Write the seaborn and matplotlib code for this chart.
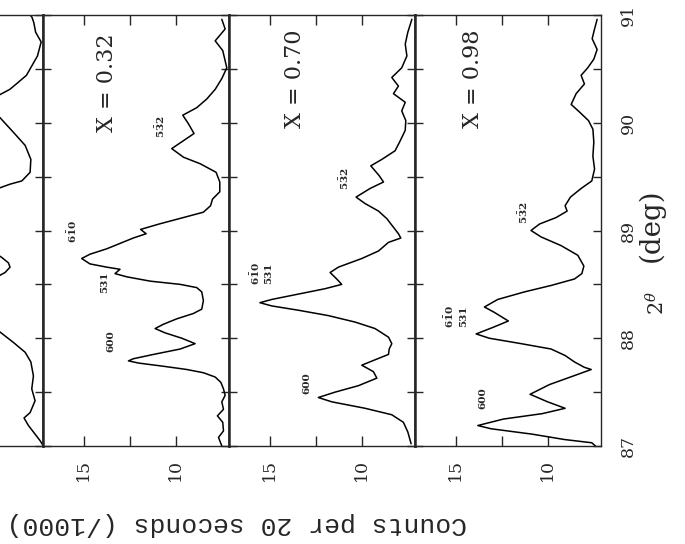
import matplotlib
matplotlib.use("Agg")
import matplotlib.pyplot as plt
from matplotlib.ticker import MultipleLocator, FixedLocator
import seaborn as sns

# 2-theta (deg) and counts per 20 s (/1000)
# top panel is cut off by the page edge; only its low-count side shows
theta_top = [91.0, 90.98, 90.93, 90.84, 90.75, 90.62, 90.53, 90.44, 90.36, 90.31,
             90.26, 90.15, 90.05, 89.91, 89.79, 89.66, 89.54, 89.46, 89.43, 89.38,
             89.0, 88.78, 88.75, 88.70, 88.66, 88.61, 88.56, 88.3, 88.08, 87.96,
             87.87, 87.78, 87.65, 87.53, 87.42, 87.31, 87.26, 87.19, 87.11, 87.05, 87.0]
counts_top = [7.8, 7.7, 7.6, 7.5, 7.2, 7.4, 7.7, 8.0, 8.55, 8.9,
              9.45, 11.0, 9.45, 8.7, 8.07, 7.76, 7.8, 8.25, 8.89, 9.7,
              12.0, 9.6, 9.34, 8.98, 8.89, 9.16, 9.7, 12.5, 9.6, 8.7,
              8.07, 7.76, 7.62, 7.71, 7.53, 7.8, 8.13, 7.89, 7.53, 7.26, 7.08]

theta_032 = [90.96, 90.87, 90.76, 90.67, 90.51, 90.41, 90.31, 90.22, 90.14, 90.07,
             89.99, 89.90, 89.76, 89.68, 89.62, 89.54, 89.45, 89.36, 89.29, 89.23,
             89.17, 89.11, 89.06, 89.01, 88.97, 88.93, 88.83, 88.78, 88.74, 88.69,
             88.66, 88.64, 88.60, 88.57, 88.53, 88.50, 88.47, 88.43, 88.35, 88.27,
             88.23, 88.18, 88.13, 88.09, 88.05, 88.00, 87.95, 87.90, 87.85, 87.81,
             87.79, 87.77, 87.74, 87.71, 87.68, 87.64, 87.59, 87.53, 87.47, 87.41,
             87.34, 87.28, 87.22, 87.14, 87.08, 87.00]
counts_032 = [7.49, 7.31, 7.85, 7.44, 7.22, 7.49, 7.85, 8.31, 8.85, 9.61,
              9.30, 9.00, 10.21, 9.57, 8.67, 7.80, 7.60, 7.60, 8.00, 8.10,
              8.49, 9.80, 10.90, 11.90, 11.60, 12.30, 13.74, 14.65, 15.10, 14.65,
              13.74, 13.02, 13.29, 12.65, 11.38, 9.75, 8.85, 8.58, 8.49, 8.58,
              9.03, 9.94, 10.66, 11.11, 10.57, 9.66, 8.94, 9.75, 11.20, 12.29,
              12.56, 12.02, 10.66, 9.39, 8.49, 7.85, 7.54, 7.40, 7.31, 7.49,
              7.40, 7.73, 7.44, 7.40, 7.67, 7.49]

theta_070 = [90.96, 90.84, 90.73, 90.62, 90.51, 90.42, 90.34, 90.27, 90.19, 90.11,
             90.02, 89.93, 89.83, 89.74, 89.66, 89.60, 89.51, 89.45, 89.39, 89.31,
             89.25, 89.18, 89.11, 89.03, 88.97, 88.93, 88.89, 88.81, 88.74, 88.66,
             88.61, 88.55, 88.50, 88.46, 88.41, 88.36, 88.33, 88.30, 88.26, 88.21,
             88.15, 88.09, 88.01, 87.95, 87.90, 87.85, 87.80, 87.75, 87.69, 87.63,
             87.56, 87.50, 87.45, 87.41, 87.35, 87.29, 87.22, 87.13, 87.02]
counts_070 = [7.27, 7.49, 7.63, 7.54, 7.82, 8.36, 8.00, 8.27, 7.63, 7.82,
              7.60, 7.63, 7.91, 8.18, 8.90, 9.50, 9.05, 8.81, 9.54, 10.30,
              9.81, 9.08, 8.63, 8.27, 8.00, 7.87, 8.54, 9.08, 9.99, 11.26,
              11.71, 11.35, 11.08, 11.98, 13.43, 14.88, 15.52, 14.88, 13.43, 11.80,
              10.35, 9.27, 8.54, 8.36, 8.50, 8.54, 9.27, 9.99, 9.36, 9.17,
              10.17, 11.44, 12.35, 11.62, 9.81, 8.36, 7.73, 7.49, 7.31]

theta_098 = [90.96, 90.87, 90.78, 90.68, 90.59, 90.51, 90.44, 90.36, 90.27, 90.17,
             90.10, 90.02, 89.94, 89.82, 89.69, 89.57, 89.46, 89.39, 89.31, 89.23,
             89.18, 89.12, 89.06, 89.00, 88.94, 88.86, 88.77, 88.67, 88.60, 88.55,
             88.49, 88.43, 88.36, 88.29, 88.24, 88.16, 88.10, 88.04, 88.00, 87.95,
             87.90, 87.84, 87.78, 87.73, 87.71, 87.65, 87.57, 87.48, 87.41, 87.35,
             87.30, 87.25, 87.19, 87.16, 87.11, 87.06, 87.03, 87.00]
counts_098 = [7.31, 7.45, 7.58, 7.31, 7.49, 7.82, 8.18, 8.00, 8.45, 8.72,
              8.27, 7.78, 7.54, 7.49, 7.54, 7.45, 7.60, 8.18, 8.76, 9.05,
              8.94, 9.54, 10.44, 10.90, 10.35, 9.27, 8.36, 8.03, 8.14, 8.54,
              9.81, 11.26, 12.71, 13.43, 12.89, 12.13, 12.98, 13.88, 13.16, 11.44,
              9.81, 9.05, 8.54, 8.00, 7.63, 8.60, 9.90, 10.95, 10.00, 9.05,
              10.30, 12.40, 13.79, 13.07, 10.84, 9.08, 7.60, 7.40]

panel_names = ["", "X = 0.32", "X = 0.70", "X = 0.98"]
name_pos = [None, (13.72, 90.37), (13.61, 90.41), (14.05, 90.41)]
# (label, counts, theta) of the reflection markers in each panel
peak_labels = [
    [],
    [("600", 13.5, 87.97), ("531", 13.83, 88.52), (r"$\mathbf{6\bar{1}0}$", 15.6, 88.99),
     (r"$\mathbf{5\bar{3}2}$", 10.84, 89.96)],
    [("600", 12.96, 87.58), ("531", 15.03, 88.6), (r"$\mathbf{6\bar{1}0}$", 15.79, 88.6),
     (r"$\mathbf{5\bar{3}2}$", 10.95, 89.48)],
    [("600", 13.5, 87.44), ("531", 14.54, 88.2), (r"$\mathbf{6\bar{1}0}$", 15.35, 88.2),
     (r"$\mathbf{5\bar{3}2}$", 11.33, 89.17)],
]
count_ticks = [10, 12.5, 15]
count_tick_labels = ["10", "", "15"]
theta_ticks = [87, 88, 89, 90, 91]

sns.set_style("ticks")
plt.rcParams["font.family"] = ["DejaVu Serif"]
plt.rcParams["mathtext.fontset"] = "dejavuserif"

fig = plt.figure(figsize=(6.85, 5.44), dpi=100)
W, H = 685.0, 544.0
lefts = [-143, 43, 229, 415]
pw = 186
bottom, top = 446, 15

series = [(theta_top, counts_top), (theta_032, counts_032),
          (theta_070, counts_070), (theta_098, counts_098)]

for i, (th, ct) in enumerate(series):
    ax = fig.add_axes([lefts[i] / W, (H - bottom) / H, pw / W, (bottom - top) / H])
    sns.lineplot(x=ct, y=th, sort=False, estimator=None, color="black",
                 linewidth=1.1, ax=ax)
    ax.set_xlim(17.2, 7.1)
    ax.set_ylim(87, 91)
    ax.set_xlabel("")
    ax.set_ylabel("")

    ax.xaxis.set_major_locator(FixedLocator(count_ticks))
    ax.set_xticklabels(count_tick_labels)
    ax.yaxis.set_major_locator(FixedLocator(theta_ticks))
    ax.yaxis.set_minor_locator(MultipleLocator(0.5))

    ax.tick_params(axis="x", which="both", direction="in", top=True, bottom=True,
                   length=7, width=1.0, labelsize=12.5, labelrotation=90, pad=9.5,
                   labelbottom=(i > 0))
    ax.tick_params(axis="y", which="both", direction="in", left=True, right=True,
                   length=6, width=1.0, labelleft=False, labelright=(i == 3),
                   labelsize=12.5, labelrotation=90, pad=13.5)
    for lab in ax.get_yticklabels():
        lab.set_va("center")

    for side in ["left", "right"]:
        ax.spines[side].set_linewidth(1.8)
    for side in ["top", "bottom"]:
        ax.spines[side].set_linewidth(1.0)
    if i == 3:
        ax.spines["right"].set_linewidth(1.0)

    if name_pos[i] is not None:
        ax.text(name_pos[i][0], name_pos[i][1], panel_names[i], rotation=90,
                ha="center", va="center", fontsize=16)
    for lab, cx, ty in peak_labels[i]:
        ax.text(cx, ty, lab, rotation=90, ha="center", va="center", fontsize=7.5,
                fontweight="bold")

fig.text(651 / W, 1 - 225 / H, "(deg)", rotation=90, ha="center", va="center",
         fontsize=20)
fig.text(657 / W, 1 - 303 / H, r"$2^{\theta}$", rotation=90, ha="center",
         va="center", fontsize=15)
fig.text(237 / W, 1 - 524 / H, "Counts per 20 seconds (/1000)", rotation=180,
         ha="center", va="center", fontsize=19, family=["Liberation Mono"])

fig.savefig("out.png", dpi=100)
plt.close(fig)
